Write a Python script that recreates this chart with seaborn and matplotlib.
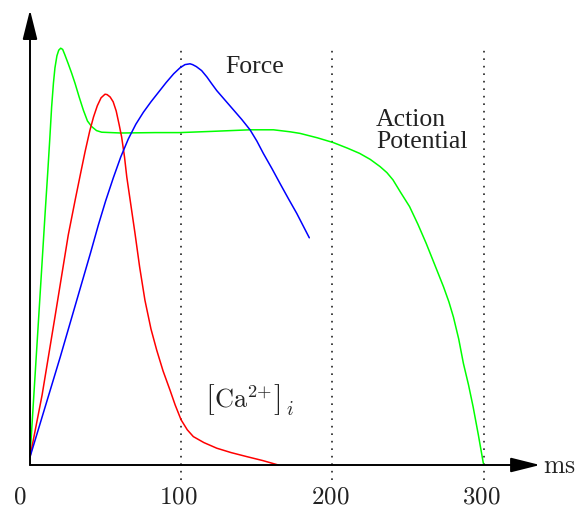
"""
Cardiac muscle: action potential, intracellular calcium and force over time.
"""

import matplotlib
matplotlib.use("Agg")
import matplotlib.pyplot as plt
import seaborn as sns

# ---- data (time in ms, amplitude in arbitrary units) ----
ap_t = [0, 6, 10, 11.7, 13, 14.3, 15.5, 16.5, 17.8, 19, 20.3, 21.6, 23, 25.3,
        27.5, 29.8, 32.5, 35.3, 38, 40.8, 44, 47.4, 60, 82.7, 99, 120, 145.5,
        161, 172, 178.6, 190, 200.6, 210, 218, 225, 231.5, 236, 240, 245, 251,
        256.5, 262, 267.5, 273.4, 277, 280, 283.5, 286.6, 290, 293, 296.5, 299.8]
ap_v = [2, 38.5, 63, 73, 81, 89.5, 95.5, 99.3, 102.3, 103.7, 104.2, 103.9,
        102.6, 100.3, 98, 95.4, 92, 88.7, 86, 84.6, 83.6, 83.2, 83, 83.1, 83.1,
        83.4, 83.8, 83.8, 83.3, 82.9, 81.8, 80.6, 79.2, 77.9, 76.4, 74.6, 73.1,
        71.3, 68.2, 64.6, 60.2, 55.4, 50.2, 44.6, 40.8, 37, 31.5, 25.4, 20,
        14.6, 7.5, 0.4]

ca_t = [0, 8, 16.5, 25.3, 30, 33.5, 36.4, 39.5, 42, 44.5, 47, 49.6, 51, 53, 55,
        57, 59, 60.6, 62.5, 64, 66.7, 69.4, 72.5, 76, 80, 83.8, 88, 92.6, 96,
        99.9, 104, 108, 115, 123.5, 133, 143.3, 154, 164.2]
ca_v = [2, 17.5, 37, 57.5, 66.5, 73, 78.3, 83.5, 87, 89.8, 91.8, 92.7, 92.6,
        92, 90.8, 88.5, 85, 82, 77, 72, 65, 58, 49.5, 41.2, 34, 28.7, 23.5,
        18.7, 15, 11.3, 8.8, 7.1, 5.6, 4.2, 3.1, 2.1, 1.1, 0]

force_t = [0, 10, 20, 30, 40, 45.2, 50, 55.1, 60, 65, 70, 75, 80, 85, 90, 95,
           99.2, 102.5, 105.8, 107.5, 110, 113.5, 117, 120, 123.5, 129, 134.5,
           140, 145.5, 150, 154.3, 160, 165.3, 171, 176.4, 184.7]
force_v = [2, 14.5, 27, 40, 53, 60, 66, 71.8, 77, 81.5, 85.2, 88.2, 90.8, 93.2,
           95.6, 97.8, 99.3, 100.1, 100.3, 100.1, 99.6, 98.6, 97, 95.4, 93.6,
           91.2, 88.8, 86.4, 83.8, 81, 77.9, 74.1, 70.4, 66.5, 62.9, 56.8]

grid_times = [100, 200, 300]
tick_values = [0, 100, 200, 300]

sns.set_style("white")
plt.rcParams["mathtext.fontset"] = "cm"

fig = plt.figure(figsize=(5.75, 5.08), dpi=100)
ax = fig.add_axes([0, 0, 1, 1])
ax.set_xlim(-19.84, 360.4)
ax.set_ylim(-10.75, 116.25)
ax.axis("off")

# dotted time markers
ax.vlines(grid_times, -3.75, 105, colors="#222222", lw=1.2,
          linestyles=(0, (1, 3.5)))

# axes with arrow heads
arrow = dict(arrowstyle="-|>,head_length=1.8,head_width=0.45", lw=1.4,
             shrinkA=0, shrinkB=0, mutation_scale=10)
ax.annotate("", xy=(0, 113.75), xytext=(0, 0),
            arrowprops=dict(arrow, color="#444444", fc="black", ec="black"))
ax.annotate("", xy=(337.3, 0), xytext=(0, 0),
            arrowprops=dict(arrow, color="black"))

# curves
sns.lineplot(x=ap_t, y=ap_v, sort=False, estimator=None, color="#00ff00", lw=1.1, ax=ax)
sns.lineplot(x=ca_t, y=ca_v, sort=False, estimator=None, color="#ff0000", lw=1.1, ax=ax)
sns.lineplot(x=force_t, y=force_v, sort=False, estimator=None, color="#0000ff", lw=1.1, ax=ax)

# labels
ink = "#222222"
serif = dict(family="Liberation Serif", size=18.5, color=ink)
ax.text(129, 97.9, "Force", va="baseline", ha="left", **serif)
ax.text(228.8, 84.75, "Action", va="baseline", ha="left", **serif)
ax.text(228.8, 79.25, "Potential", va="baseline", ha="left", **serif)

# [Ca2+]_i with tall brackets
ax.text(115.7, 14.5, r"$[$", va="baseline", ha="left", size=23, color=ink)
ax.text(122.0, 14.5, r"$\mathrm{Ca}^{2{+}}$", va="baseline", ha="left",
        size=19, color=ink)
ax.text(160.5, 14.5, r"$]$", va="baseline", ha="left", size=23, color=ink)
ax.text(169.0, 12.5, r"$i$", va="baseline", ha="left", size=14, color=ink)

ax.text(339.3, -2, r"$\mathrm{ms}$", va="baseline", ha="left", size=18.5,
        color=ink)

tick_x = [-7, 98, 198.4, 298.3]
for xpos, val in zip(tick_x, tick_values):
    ax.text(xpos, -4.8, rf"${val}$", va="top", ha="center", size=18,
            color=ink)

plt.savefig("out.png", dpi=100)
